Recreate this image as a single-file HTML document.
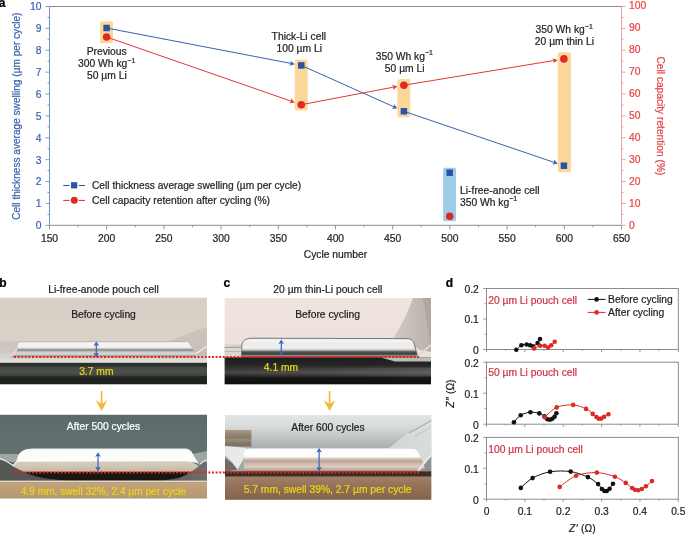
<!DOCTYPE html><html><head><meta charset="utf-8"><style>html,body{margin:0;padding:0;background:#fff;overflow:hidden}svg{display:block}text{font-family:"Liberation Sans",Arial,sans-serif}</style></head><body>
<svg width="685" height="534" viewBox="0 0 685 534">
<defs>
<linearGradient id="gb1r" x1="0" y1="0" x2="1" y2="1"><stop offset="0" stop-color="#d0c7be"/><stop offset="1" stop-color="#c6bdb4"/></linearGradient>
<linearGradient id="gb1f" x1="0" y1="0" x2="0" y2="1"><stop offset="0" stop-color="#cbc5bf"/><stop offset="0.6" stop-color="#cdc8c2"/><stop offset="1" stop-color="#dcd8d3"/></linearGradient>
<linearGradient id="gb1bg" x1="0" y1="0" x2="0" y2="1"><stop offset="0" stop-color="#d7cfc6"/><stop offset="0.5" stop-color="#dad2c9"/><stop offset="1" stop-color="#dad3cb"/></linearGradient>
<linearGradient id="gb1p" x1="0" y1="0" x2="0" y2="1"><stop offset="0" stop-color="#b5b0ab"/><stop offset="0.06" stop-color="#f6f5f3"/><stop offset="0.4" stop-color="#f0efed"/><stop offset="0.46" stop-color="#aaa8a6"/><stop offset="0.58" stop-color="#908e8c"/><stop offset="0.64" stop-color="#cfcdcb"/><stop offset="0.8" stop-color="#d8d6d4"/><stop offset="0.9" stop-color="#9a9896"/><stop offset="1" stop-color="#b0aeac"/></linearGradient>
<linearGradient id="gb1l" x1="0" y1="0" x2="0" y2="1"><stop offset="0" stop-color="#d6d2cc"/><stop offset="1" stop-color="#e9e5df"/></linearGradient>
<linearGradient id="gb1d" x1="0" y1="0" x2="0" y2="1"><stop offset="0" stop-color="#292e2a"/><stop offset="0.15" stop-color="#2c312d"/><stop offset="0.2" stop-color="#464a44"/><stop offset="0.45" stop-color="#4c4f49"/><stop offset="0.6" stop-color="#3d403b"/><stop offset="0.64" stop-color="#222724"/><stop offset="1" stop-color="#1d2220"/></linearGradient>
<linearGradient id="gb2bg" x1="0" y1="0" x2="0" y2="1"><stop offset="0" stop-color="#5c6b6a"/><stop offset="0.4" stop-color="#62716f"/><stop offset="1" stop-color="#5f6d6b"/></linearGradient>
<linearGradient id="gb2g" x1="0" y1="0" x2="1" y2="0"><stop offset="0" stop-color="#545855"/><stop offset="1" stop-color="#6c6f6b"/></linearGradient>
<linearGradient id="gb2s" x1="0" y1="0" x2="0" y2="1"><stop offset="0" stop-color="#d9cfbf"/><stop offset="0.5" stop-color="#d2c6b3"/><stop offset="0.9" stop-color="#c8baa5"/><stop offset="1" stop-color="#8f8272"/></linearGradient>
<linearGradient id="gb2t" x1="0" y1="0" x2="0" y2="1"><stop offset="0" stop-color="#e9ecec"/><stop offset="0.12" stop-color="#fbfbfa"/><stop offset="0.8" stop-color="#fdfdfc"/><stop offset="1" stop-color="#d9d6cf"/></linearGradient>
<linearGradient id="gb2b" x1="0" y1="0" x2="0" y2="1"><stop offset="0" stop-color="#c2a47d"/><stop offset="1" stop-color="#b4966f"/></linearGradient>
<linearGradient id="gc1bg" x1="0" y1="0" x2="0" y2="1"><stop offset="0" stop-color="#efe4dd"/><stop offset="0.6" stop-color="#ede2db"/><stop offset="1" stop-color="#e7dcd5"/></linearGradient>
<linearGradient id="gc1r" x1="0" y1="0" x2="1" y2="0"><stop offset="0" stop-color="#d2c9c2"/><stop offset="1" stop-color="#b9b1aa"/></linearGradient>
<linearGradient id="gc1p" x1="0" y1="0" x2="0" y2="1"><stop offset="0" stop-color="#d8d6d6"/><stop offset="0.08" stop-color="#f6f5f5"/><stop offset="0.3" stop-color="#ecebeb"/><stop offset="0.5" stop-color="#f2f1f1"/><stop offset="0.6" stop-color="#d0cfcf"/><stop offset="0.7" stop-color="#5a5958"/><stop offset="0.82" stop-color="#3c3b3a"/><stop offset="0.9" stop-color="#8a8886"/><stop offset="1" stop-color="#6a6866"/></linearGradient>
<linearGradient id="gc1d" x1="0" y1="0" x2="0" y2="1"><stop offset="0" stop-color="#1e1e1d"/><stop offset="0.25" stop-color="#242423"/><stop offset="0.42" stop-color="#363634"/><stop offset="0.56" stop-color="#474744"/><stop offset="0.68" stop-color="#2a2a29"/><stop offset="0.76" stop-color="#151515"/><stop offset="1" stop-color="#0f0f0f"/></linearGradient>
<linearGradient id="gc2bg" x1="0" y1="0" x2="0" y2="1"><stop offset="0" stop-color="#e0e4e2"/><stop offset="0.12" stop-color="#d9dddb"/><stop offset="0.27" stop-color="#c0c4c2"/><stop offset="0.39" stop-color="#a9adab"/><stop offset="1" stop-color="#9a9e9c"/></linearGradient>
<linearGradient id="gc1o" x1="0" y1="0" x2="1" y2="0"><stop offset="0" stop-color="#fff" stop-opacity="0"/><stop offset="0.5" stop-color="#fff" stop-opacity="0.05"/><stop offset="1" stop-color="#fff" stop-opacity="0.14"/></linearGradient>
<linearGradient id="gc2pl" x1="0" y1="1" x2="1" y2="0"><stop offset="0" stop-color="#cdd1cf"/><stop offset="1" stop-color="#dde1df"/></linearGradient>
<linearGradient id="gc2cyl" x1="0" y1="0" x2="0" y2="1"><stop offset="0" stop-color="#a89a8a"/><stop offset="0.25" stop-color="#978775"/><stop offset="0.45" stop-color="#8a7a68"/><stop offset="0.6" stop-color="#9c8c7a"/><stop offset="0.8" stop-color="#857565"/><stop offset="1" stop-color="#7c6e60"/></linearGradient>
<linearGradient id="gc2p" x1="0" y1="0" x2="0" y2="1"><stop offset="0" stop-color="#e8e8e8"/><stop offset="0.06" stop-color="#ffffff"/><stop offset="0.36" stop-color="#fbfbfb"/><stop offset="0.45" stop-color="#d6c7bd"/><stop offset="0.55" stop-color="#bba396"/><stop offset="0.68" stop-color="#d2beb2"/><stop offset="0.8" stop-color="#dccbc0"/><stop offset="0.92" stop-color="#c2a99a"/><stop offset="1" stop-color="#9c8171"/></linearGradient>
<linearGradient id="gc2b" x1="0" y1="0" x2="0" y2="1"><stop offset="0" stop-color="#a08068"/><stop offset="0.5" stop-color="#916f57"/><stop offset="1" stop-color="#83634c"/></linearGradient>
</defs>
<text x="-1.20" y="6.60" font-size="12" text-anchor="start" fill="#000" stroke="#000" stroke-width="0.22" font-weight="bold">a</text>
<rect x="100" y="21.2" width="13.00" height="22.00" rx="2" fill="#fbd899"/>
<rect x="294.8" y="59.5" width="12.90" height="50.90" rx="2" fill="#fbd899"/>
<rect x="397.4" y="79" width="12.90" height="38.20" rx="2" fill="#fbd899"/>
<rect x="557.8" y="52.3" width="13.20" height="120.00" rx="2" fill="#fbd899"/>
<rect x="443.1" y="167.7" width="12.90" height="53.60" rx="2" fill="#9fcde8"/>
<line x1="49.5" y1="6.5" x2="621.5" y2="6.5" stroke="#8c8c8c" stroke-width="1"/>
<line x1="49.5" y1="225.3" x2="621.5" y2="225.3" stroke="#8c8c8c" stroke-width="1"/>
<line x1="49.50" y1="225.3" x2="49.50" y2="229.50" stroke="#8c8c8c" stroke-width="0.9"/>
<text x="49.50" y="241.70" font-size="10.3" text-anchor="middle" fill="#231f20" stroke="#231f20" stroke-width="0.22" >150</text>
<line x1="78.10" y1="225.3" x2="78.10" y2="227.30" stroke="#8c8c8c" stroke-width="0.9"/>
<line x1="106.70" y1="225.3" x2="106.70" y2="229.50" stroke="#8c8c8c" stroke-width="0.9"/>
<text x="106.70" y="241.70" font-size="10.3" text-anchor="middle" fill="#231f20" stroke="#231f20" stroke-width="0.22" >200</text>
<line x1="135.30" y1="225.3" x2="135.30" y2="227.30" stroke="#8c8c8c" stroke-width="0.9"/>
<line x1="163.90" y1="225.3" x2="163.90" y2="229.50" stroke="#8c8c8c" stroke-width="0.9"/>
<text x="163.90" y="241.70" font-size="10.3" text-anchor="middle" fill="#231f20" stroke="#231f20" stroke-width="0.22" >250</text>
<line x1="192.50" y1="225.3" x2="192.50" y2="227.30" stroke="#8c8c8c" stroke-width="0.9"/>
<line x1="221.10" y1="225.3" x2="221.10" y2="229.50" stroke="#8c8c8c" stroke-width="0.9"/>
<text x="221.10" y="241.70" font-size="10.3" text-anchor="middle" fill="#231f20" stroke="#231f20" stroke-width="0.22" >300</text>
<line x1="249.70" y1="225.3" x2="249.70" y2="227.30" stroke="#8c8c8c" stroke-width="0.9"/>
<line x1="278.30" y1="225.3" x2="278.30" y2="229.50" stroke="#8c8c8c" stroke-width="0.9"/>
<text x="278.30" y="241.70" font-size="10.3" text-anchor="middle" fill="#231f20" stroke="#231f20" stroke-width="0.22" >350</text>
<line x1="306.90" y1="225.3" x2="306.90" y2="227.30" stroke="#8c8c8c" stroke-width="0.9"/>
<line x1="335.50" y1="225.3" x2="335.50" y2="229.50" stroke="#8c8c8c" stroke-width="0.9"/>
<text x="335.50" y="241.70" font-size="10.3" text-anchor="middle" fill="#231f20" stroke="#231f20" stroke-width="0.22" >400</text>
<line x1="364.10" y1="225.3" x2="364.10" y2="227.30" stroke="#8c8c8c" stroke-width="0.9"/>
<line x1="392.70" y1="225.3" x2="392.70" y2="229.50" stroke="#8c8c8c" stroke-width="0.9"/>
<text x="392.70" y="241.70" font-size="10.3" text-anchor="middle" fill="#231f20" stroke="#231f20" stroke-width="0.22" >450</text>
<line x1="421.30" y1="225.3" x2="421.30" y2="227.30" stroke="#8c8c8c" stroke-width="0.9"/>
<line x1="449.90" y1="225.3" x2="449.90" y2="229.50" stroke="#8c8c8c" stroke-width="0.9"/>
<text x="449.90" y="241.70" font-size="10.3" text-anchor="middle" fill="#231f20" stroke="#231f20" stroke-width="0.22" >500</text>
<line x1="478.50" y1="225.3" x2="478.50" y2="227.30" stroke="#8c8c8c" stroke-width="0.9"/>
<line x1="507.10" y1="225.3" x2="507.10" y2="229.50" stroke="#8c8c8c" stroke-width="0.9"/>
<text x="507.10" y="241.70" font-size="10.3" text-anchor="middle" fill="#231f20" stroke="#231f20" stroke-width="0.22" >550</text>
<line x1="535.70" y1="225.3" x2="535.70" y2="227.30" stroke="#8c8c8c" stroke-width="0.9"/>
<line x1="564.30" y1="225.3" x2="564.30" y2="229.50" stroke="#8c8c8c" stroke-width="0.9"/>
<text x="564.30" y="241.70" font-size="10.3" text-anchor="middle" fill="#231f20" stroke="#231f20" stroke-width="0.22" >600</text>
<line x1="592.90" y1="225.3" x2="592.90" y2="227.30" stroke="#8c8c8c" stroke-width="0.9"/>
<line x1="621.50" y1="225.3" x2="621.50" y2="229.50" stroke="#8c8c8c" stroke-width="0.9"/>
<text x="621.50" y="241.70" font-size="10.3" text-anchor="middle" fill="#231f20" stroke="#231f20" stroke-width="0.22" >650</text>
<text x="335.50" y="258.20" font-size="10.3" text-anchor="middle" fill="#231f20" stroke="#231f20" stroke-width="0.22" >Cycle number</text>
<line x1="49.5" y1="6.5" x2="49.5" y2="225.3" stroke="#7590cb" stroke-width="1"/>
<line x1="45.5" y1="225.30" x2="49.5" y2="225.30" stroke="#7590cb" stroke-width="0.9"/>
<text x="41.50" y="229.19" font-size="10.3" text-anchor="end" fill="#3d63b0" stroke="#3d63b0" stroke-width="0.22" >0</text>
<line x1="47.5" y1="214.36" x2="49.5" y2="214.36" stroke="#7590cb" stroke-width="0.9"/>
<line x1="45.5" y1="203.42" x2="49.5" y2="203.42" stroke="#7590cb" stroke-width="0.9"/>
<text x="41.50" y="207.32" font-size="10.3" text-anchor="end" fill="#3d63b0" stroke="#3d63b0" stroke-width="0.22" >1</text>
<line x1="47.5" y1="192.48" x2="49.5" y2="192.48" stroke="#7590cb" stroke-width="0.9"/>
<line x1="45.5" y1="181.54" x2="49.5" y2="181.54" stroke="#7590cb" stroke-width="0.9"/>
<text x="41.50" y="185.45" font-size="10.3" text-anchor="end" fill="#3d63b0" stroke="#3d63b0" stroke-width="0.22" >2</text>
<line x1="47.5" y1="170.60" x2="49.5" y2="170.60" stroke="#7590cb" stroke-width="0.9"/>
<line x1="45.5" y1="159.66" x2="49.5" y2="159.66" stroke="#7590cb" stroke-width="0.9"/>
<text x="41.50" y="163.58" font-size="10.3" text-anchor="end" fill="#3d63b0" stroke="#3d63b0" stroke-width="0.22" >3</text>
<line x1="47.5" y1="148.72" x2="49.5" y2="148.72" stroke="#7590cb" stroke-width="0.9"/>
<line x1="45.5" y1="137.78" x2="49.5" y2="137.78" stroke="#7590cb" stroke-width="0.9"/>
<text x="41.50" y="141.71" font-size="10.3" text-anchor="end" fill="#3d63b0" stroke="#3d63b0" stroke-width="0.22" >4</text>
<line x1="47.5" y1="126.84" x2="49.5" y2="126.84" stroke="#7590cb" stroke-width="0.9"/>
<line x1="45.5" y1="115.90" x2="49.5" y2="115.90" stroke="#7590cb" stroke-width="0.9"/>
<text x="41.50" y="119.84" font-size="10.3" text-anchor="end" fill="#3d63b0" stroke="#3d63b0" stroke-width="0.22" >5</text>
<line x1="47.5" y1="104.96" x2="49.5" y2="104.96" stroke="#7590cb" stroke-width="0.9"/>
<line x1="45.5" y1="94.02" x2="49.5" y2="94.02" stroke="#7590cb" stroke-width="0.9"/>
<text x="41.50" y="97.97" font-size="10.3" text-anchor="end" fill="#3d63b0" stroke="#3d63b0" stroke-width="0.22" >6</text>
<line x1="47.5" y1="83.08" x2="49.5" y2="83.08" stroke="#7590cb" stroke-width="0.9"/>
<line x1="45.5" y1="72.14" x2="49.5" y2="72.14" stroke="#7590cb" stroke-width="0.9"/>
<text x="41.50" y="76.10" font-size="10.3" text-anchor="end" fill="#3d63b0" stroke="#3d63b0" stroke-width="0.22" >7</text>
<line x1="47.5" y1="61.20" x2="49.5" y2="61.20" stroke="#7590cb" stroke-width="0.9"/>
<line x1="45.5" y1="50.26" x2="49.5" y2="50.26" stroke="#7590cb" stroke-width="0.9"/>
<text x="41.50" y="54.23" font-size="10.3" text-anchor="end" fill="#3d63b0" stroke="#3d63b0" stroke-width="0.22" >8</text>
<line x1="47.5" y1="39.32" x2="49.5" y2="39.32" stroke="#7590cb" stroke-width="0.9"/>
<line x1="45.5" y1="28.38" x2="49.5" y2="28.38" stroke="#7590cb" stroke-width="0.9"/>
<text x="41.50" y="32.36" font-size="10.3" text-anchor="end" fill="#3d63b0" stroke="#3d63b0" stroke-width="0.22" >9</text>
<line x1="47.5" y1="17.44" x2="49.5" y2="17.44" stroke="#7590cb" stroke-width="0.9"/>
<line x1="45.5" y1="6.50" x2="49.5" y2="6.50" stroke="#7590cb" stroke-width="0.9"/>
<text x="41.50" y="10.49" font-size="10.3" text-anchor="end" fill="#3d63b0" stroke="#3d63b0" stroke-width="0.22" >10</text>
<text transform="translate(20.2,116.2) rotate(-90)" font-size="10.1" text-anchor="middle" fill="#3d63b0" stroke="#3d63b0" stroke-width="0.22">Cell thickness average swelling (µm per cycle)</text>
<line x1="621.5" y1="6.5" x2="621.5" y2="225.3" stroke="#f09595" stroke-width="0.9"/>
<line x1="621.5" y1="225.30" x2="625.5" y2="225.30" stroke="#f09595" stroke-width="0.9"/>
<text x="629.00" y="228.64" font-size="10.3" text-anchor="start" fill="#e34646" stroke="#e34646" stroke-width="0.22" >0</text>
<line x1="621.5" y1="214.36" x2="623.5" y2="214.36" stroke="#f09595" stroke-width="0.9"/>
<line x1="621.5" y1="203.42" x2="625.5" y2="203.42" stroke="#f09595" stroke-width="0.9"/>
<text x="629.00" y="206.66" font-size="10.3" text-anchor="start" fill="#e34646" stroke="#e34646" stroke-width="0.22" >10</text>
<line x1="621.5" y1="192.48" x2="623.5" y2="192.48" stroke="#f09595" stroke-width="0.9"/>
<line x1="621.5" y1="181.54" x2="625.5" y2="181.54" stroke="#f09595" stroke-width="0.9"/>
<text x="629.00" y="184.68" font-size="10.3" text-anchor="start" fill="#e34646" stroke="#e34646" stroke-width="0.22" >20</text>
<line x1="621.5" y1="170.60" x2="623.5" y2="170.60" stroke="#f09595" stroke-width="0.9"/>
<line x1="621.5" y1="159.66" x2="625.5" y2="159.66" stroke="#f09595" stroke-width="0.9"/>
<text x="629.00" y="162.70" font-size="10.3" text-anchor="start" fill="#e34646" stroke="#e34646" stroke-width="0.22" >30</text>
<line x1="621.5" y1="148.72" x2="623.5" y2="148.72" stroke="#f09595" stroke-width="0.9"/>
<line x1="621.5" y1="137.78" x2="625.5" y2="137.78" stroke="#f09595" stroke-width="0.9"/>
<text x="629.00" y="140.72" font-size="10.3" text-anchor="start" fill="#e34646" stroke="#e34646" stroke-width="0.22" >40</text>
<line x1="621.5" y1="126.84" x2="623.5" y2="126.84" stroke="#f09595" stroke-width="0.9"/>
<line x1="621.5" y1="115.90" x2="625.5" y2="115.90" stroke="#f09595" stroke-width="0.9"/>
<text x="629.00" y="118.74" font-size="10.3" text-anchor="start" fill="#e34646" stroke="#e34646" stroke-width="0.22" >50</text>
<line x1="621.5" y1="104.96" x2="623.5" y2="104.96" stroke="#f09595" stroke-width="0.9"/>
<line x1="621.5" y1="94.02" x2="625.5" y2="94.02" stroke="#f09595" stroke-width="0.9"/>
<text x="629.00" y="96.76" font-size="10.3" text-anchor="start" fill="#e34646" stroke="#e34646" stroke-width="0.22" >60</text>
<line x1="621.5" y1="83.08" x2="623.5" y2="83.08" stroke="#f09595" stroke-width="0.9"/>
<line x1="621.5" y1="72.14" x2="625.5" y2="72.14" stroke="#f09595" stroke-width="0.9"/>
<text x="629.00" y="74.78" font-size="10.3" text-anchor="start" fill="#e34646" stroke="#e34646" stroke-width="0.22" >70</text>
<line x1="621.5" y1="61.20" x2="623.5" y2="61.20" stroke="#f09595" stroke-width="0.9"/>
<line x1="621.5" y1="50.26" x2="625.5" y2="50.26" stroke="#f09595" stroke-width="0.9"/>
<text x="629.00" y="52.80" font-size="10.3" text-anchor="start" fill="#e34646" stroke="#e34646" stroke-width="0.22" >80</text>
<line x1="621.5" y1="39.32" x2="623.5" y2="39.32" stroke="#f09595" stroke-width="0.9"/>
<line x1="621.5" y1="28.38" x2="625.5" y2="28.38" stroke="#f09595" stroke-width="0.9"/>
<text x="629.00" y="30.82" font-size="10.3" text-anchor="start" fill="#e34646" stroke="#e34646" stroke-width="0.22" >90</text>
<line x1="621.5" y1="17.44" x2="623.5" y2="17.44" stroke="#f09595" stroke-width="0.9"/>
<line x1="621.5" y1="6.50" x2="625.5" y2="6.50" stroke="#f09595" stroke-width="0.9"/>
<text x="629.00" y="8.84" font-size="10.3" text-anchor="start" fill="#e34646" stroke="#e34646" stroke-width="0.22" >100</text>
<text transform="translate(657.2,115.9) rotate(90)" font-size="10.2" text-anchor="middle" fill="#e34646" stroke="#e34646" stroke-width="0.22">Cell capacity retention (%)</text>
<line x1="106.60" y1="28.00" x2="291.07" y2="63.43" stroke="#3a60b2" stroke-width="1"/>
<path d="M294.80,64.15 L289.40,65.76 L291.07,63.43 L290.38,60.65 Z" fill="#3a60b2"/>
<line x1="106.60" y1="37.00" x2="291.21" y2="101.19" stroke="#e03838" stroke-width="1"/>
<path d="M294.80,102.44 L289.22,103.25 L291.21,101.19 L290.93,98.34 Z" fill="#e03838"/>
<line x1="301.30" y1="65.40" x2="393.93" y2="106.84" stroke="#3a60b2" stroke-width="1"/>
<path d="M397.40,108.39 L391.77,108.72 L393.93,106.84 L393.90,103.98 Z" fill="#3a60b2"/>
<line x1="301.30" y1="104.70" x2="393.67" y2="87.14" stroke="#e03838" stroke-width="1"/>
<path d="M397.40,86.44 L392.97,89.92 L393.67,87.14 L392.00,84.81 Z" fill="#e03838"/>
<line x1="403.90" y1="111.30" x2="554.20" y2="162.40" stroke="#3a60b2" stroke-width="1"/>
<path d="M557.80,163.63 L552.23,164.48 L554.20,162.40 L553.90,159.55 Z" fill="#3a60b2"/>
<line x1="403.90" y1="85.20" x2="554.05" y2="60.52" stroke="#e03838" stroke-width="1"/>
<path d="M557.80,59.90 L553.29,63.28 L554.05,60.52 L552.44,58.15 Z" fill="#e03838"/>
<rect x="103.35" y="24.75" width="6.5" height="6.5" fill="#2a52a6"/>
<rect x="298.05" y="62.15" width="6.5" height="6.5" fill="#2a52a6"/>
<rect x="400.65" y="108.05" width="6.5" height="6.5" fill="#2a52a6"/>
<rect x="560.65" y="162.45" width="6.5" height="6.5" fill="#2a52a6"/>
<circle cx="106.60" cy="37.00" r="3.8" fill="#dd2a26"/>
<circle cx="301.30" cy="104.70" r="3.8" fill="#dd2a26"/>
<circle cx="403.90" cy="85.20" r="3.8" fill="#dd2a26"/>
<circle cx="563.90" cy="58.90" r="3.8" fill="#dd2a26"/>
<rect x="446.45" y="169.45" width="6.5" height="6.5" fill="#2a52a6"/>
<circle cx="449.70" cy="216.20" r="3.8" fill="#dd2a26"/>
<text x="106.70" y="54.70" font-size="10.3" text-anchor="middle" fill="#231f20" stroke="#231f20" stroke-width="0.22" >Previous</text>
<text x="106.70" y="67.10" font-size="10.3" text-anchor="middle" fill="#231f20" stroke="#231f20" stroke-width="0.22" >300 Wh kg<tspan font-size="7" dy="-4.4">−1</tspan></text>
<text x="106.90" y="79.30" font-size="10.3" text-anchor="middle" fill="#231f20" stroke="#231f20" stroke-width="0.22" >50 µm Li</text>
<text x="298.80" y="39.90" font-size="10.3" text-anchor="middle" fill="#231f20" stroke="#231f20" stroke-width="0.22" >Thick-Li cell</text>
<text x="299.30" y="52.20" font-size="10.3" text-anchor="middle" fill="#231f20" stroke="#231f20" stroke-width="0.22" >100 µm Li</text>
<text x="404.30" y="59.80" font-size="10.3" text-anchor="middle" fill="#231f20" stroke="#231f20" stroke-width="0.22" >350 Wh kg<tspan font-size="7" dy="-4.4">−1</tspan></text>
<text x="404.70" y="71.90" font-size="10.3" text-anchor="middle" fill="#231f20" stroke="#231f20" stroke-width="0.22" >50 µm Li</text>
<text x="564.20" y="33.00" font-size="10.3" text-anchor="middle" fill="#231f20" stroke="#231f20" stroke-width="0.22" >350 Wh kg<tspan font-size="7" dy="-4.4">−1</tspan></text>
<text x="564.40" y="44.90" font-size="10.3" text-anchor="middle" fill="#231f20" stroke="#231f20" stroke-width="0.22" >20 µm thin Li</text>
<text x="460.10" y="193.90" font-size="10.3" text-anchor="start" fill="#231f20" stroke="#231f20" stroke-width="0.22" >Li-free-anode cell</text>
<text x="460.00" y="205.80" font-size="10.3" text-anchor="start" fill="#231f20" stroke="#231f20" stroke-width="0.22" >350 Wh kg<tspan font-size="7" dy="-4.4">−1</tspan></text>
<line x1="63.3" y1="185.5" x2="69.6" y2="185.5" stroke="#2a52a6" stroke-width="1"/>
<line x1="78.8" y1="185.5" x2="84.9" y2="185.5" stroke="#2a52a6" stroke-width="1"/>
<rect x="71.05" y="182.20" width="6.2" height="6.2" fill="#2a52a6"/>
<text x="92.00" y="188.60" font-size="10.2" text-anchor="start" fill="#231f20" stroke="#231f20" stroke-width="0.22" >Cell thickness average swelling (µm per cycle)</text>
<line x1="63.3" y1="200.4" x2="69.6" y2="200.4" stroke="#dd2a26" stroke-width="1"/>
<line x1="78.8" y1="200.4" x2="84.9" y2="200.4" stroke="#dd2a26" stroke-width="1"/>
<circle cx="74.30" cy="200.20" r="3.5" fill="#dd2a26"/>
<text x="92.00" y="204.10" font-size="10.3" text-anchor="start" fill="#231f20" stroke="#231f20" stroke-width="0.22" >Cell capacity retention after cycling (%)</text>
<text x="-0.80" y="286.60" font-size="12" text-anchor="start" fill="#000" stroke="#000" stroke-width="0.22" font-weight="bold">b</text>
<text x="223.40" y="287.20" font-size="12" text-anchor="start" fill="#000" stroke="#000" stroke-width="0.22" font-weight="bold">c</text>
<text x="445.70" y="287.10" font-size="12" text-anchor="start" fill="#000" stroke="#000" stroke-width="0.22" font-weight="bold">d</text>
<text x="103.50" y="292.80" font-size="10.3" text-anchor="middle" fill="#231f20" stroke="#231f20" stroke-width="0.22" >Li-free-anode pouch cell</text>
<text x="327.80" y="292.50" font-size="10.3" text-anchor="middle" fill="#231f20" stroke="#231f20" stroke-width="0.22" >20 µm thin-Li pouch cell</text>
<clipPath id="cb1"><rect x="0" y="297.5" width="207" height="87"/></clipPath>
<g clip-path="url(#cb1)">
<rect x="0" y="297.5" width="207" height="87" fill="url(#gb1bg)"/>
<path d="M168,341 C182,336 195,331 204,328 L207,328 L207,356 L190,356 Z" fill="url(#gb1r)"/>
<path d="M0,341.5 L22,341.5 L22,357.5 L0,357.5 Z" fill="url(#gb1f)"/>
<path d="M9,357.5 C12.5,355.5 16,353 17.3,349 L17.8,345.5 C18.3,342.6 20,341.5 24,341.5 L184,341.5 C187.5,341.5 188.5,342.5 190,345 L196,354 L194,357.5 Z" fill="url(#gb1p)"/>
<path d="M10,356.5 C13.5,354.5 16.2,352 17,348.5" stroke="#f7f6f4" stroke-width="1" fill="none" opacity="0.8"/>
<path d="M19,341.8 L185,341.8" stroke="#b9b5b1" stroke-width="0.7" fill="none"/>
<path d="M195.5,354 L207,346" stroke="#f1efec" stroke-width="1.2" fill="none"/>
<rect x="0" y="357.5" width="207" height="5.3" fill="url(#gb1l)"/>
<rect x="0" y="362.8" width="207" height="21.7" fill="url(#gb1d)"/>
</g>
<clipPath id="cb2"><rect x="0" y="414.5" width="207" height="84"/></clipPath>
<g clip-path="url(#cb2)">
<rect x="0" y="414.5" width="207" height="84" fill="url(#gb2bg)"/>
<rect x="0" y="458" width="207" height="23" fill="#545855"/>
<path d="M0,454 L22,454 L16,463 L0,460 Z" fill="#9da7a5"/>
<path d="M188,455 L207,451 L207,462 L196,463 Z" fill="#9da7a5"/>
<path d="M150,470 L207,462 L207,481 L150,481 Z" fill="url(#gb2g)"/>
<path d="M24,472 L190,472 C185,476 178,479.5 160,480.6 L70,480.6 C45,479.5 32,476 24,472 Z" fill="#1b1612"/>
<path d="M12,466 L18,460.5 L190,460.5 L199,466 L191,472 L24,472 Z" fill="url(#gb2s)"/>
<path d="M16,462 L18,456 C20,451 25,448.8 33,448.6 L184,448.6 C189,448.6 191,450.5 193,454 C195,458 197,461.5 200,464.5 C196,463 192,461.5 186,461.3 L16,461.8 Z" fill="url(#gb2t)"/>
<path d="M0,458.5 C5,460 9,463 13,465.5 L19,460" stroke="#f2f2ee" stroke-width="1.1" fill="none"/>
<path d="M199.5,464.5 C202,462 204,461 207,459.5" stroke="#eeeeea" stroke-width="1.1" fill="none"/>
<rect x="0" y="480.6" width="207" height="1.8" fill="#e6d8c3"/>
<rect x="0" y="482.4" width="207" height="16.1" fill="url(#gb2b)"/>
</g>
<clipPath id="cc1"><rect x="224.4" y="298" width="206.6" height="86.6"/></clipPath>
<g clip-path="url(#cc1)">
<rect x="224.4" y="298" width="206.6" height="86.6" fill="url(#gc1bg)"/>
<path d="M413,298 L431,298 L431,352 L420,350 C412,345 404,340 394,337 C402,325 408,312 413,298 Z" fill="url(#gc1r)"/>
<path d="M423,298 L431,298 L431,345 C428,330 426,315 423,298 Z" fill="#aea7a1"/>
<path d="M224.4,344 L242,344 L242,357.3 L224.4,357.3 Z" fill="#dcd6d2"/>
<path d="M224.4,347.5 L241,347" stroke="#8c8785" stroke-width="0.8"/>
<path d="M224.4,351.5 L241,351.5" stroke="#a9a4a1" stroke-width="0.6"/>
<path d="M241.6,357.5 L241.8,346 C242,341 245,338.4 252,338.2 L406,338.6 C412,338.6 414,341 415,347 L418,357.5 Z" fill="url(#gc1p)" stroke="#5e5b5a" stroke-width="0.8"/>
<path d="M417,357 C421,353 426,349 431,345" stroke="#dcd8d5" stroke-width="2" fill="none"/>
<rect x="224.4" y="357.3" width="206.6" height="27.3" fill="url(#gc1d)"/>
<path d="M380,357.3 L431,357.3 L431,361.5 L395,361.5 Z" fill="#bdbbb8"/>
<rect x="224.4" y="367.5" width="206.6" height="9" fill="url(#gc1o)"/>
</g>
<clipPath id="cc2"><rect x="224.9" y="414.9" width="206.6" height="84.9"/></clipPath>
<g clip-path="url(#cc2)">
<rect x="224.9" y="414.9" width="206.6" height="84.9" fill="url(#gc2bg)"/>
<path d="M388,448.5 C400,440 412,428 431.5,417 L431.5,455 L419,470 L412,448.5 Z" fill="url(#gc2pl)"/>
<path d="M409,433 L431.5,420.5" stroke="#a9afad" stroke-width="1.2" fill="none"/>
<path d="M414,437 L431.5,427" stroke="#bcc2c0" stroke-width="1" fill="none"/>
<path d="M419,471.5 L431.5,456 L431.5,472 Z" fill="#8e9290"/>
<rect x="224.9" y="430" width="26.5" height="16.5" fill="url(#gc2cyl)"/>
<path d="M224.9,458 L232,463 L237.5,469.5 L224.9,471.5 Z" fill="#75685f"/>
<path d="M224.9,446 L247,448 L243,460 L237.5,469.5 L232,462 L224.9,455 Z" fill="#e8eaea"/>
<path d="M244,471.5 L244,454 C244,450 246.5,448.3 252,448.3 L410,448.3 C416,448.3 418,451 420,456 L425,468 L418,471.5 Z" fill="url(#gc2p)"/>
<path d="M252,452 C280,451 320,452 405,452" stroke="#ffffff" stroke-width="2" fill="none" opacity="0.9"/>
<path d="M418,471 C422,466 426,460 431.5,455" stroke="#eef0f0" stroke-width="1.6" fill="none"/>
<rect x="224.9" y="471.4" width="206.6" height="5.3" fill="#3e2c22"/>
<rect x="224.9" y="476.7" width="206.6" height="23.2" fill="url(#gc2b)"/>
</g>
<text x="103.50" y="318.10" font-size="10.3" text-anchor="middle" fill="#1e1e1e" stroke="#1e1e1e" stroke-width="0.22" >Before cycling</text>
<text x="327.60" y="318.20" font-size="10.3" text-anchor="middle" fill="#1e1e1e" stroke="#1e1e1e" stroke-width="0.22" >Before cycling</text>
<text x="103.50" y="429.90" font-size="10.3" text-anchor="middle" fill="#ffffff" stroke="#ffffff" stroke-width="0.22" >After 500 cycles</text>
<text x="328.00" y="430.90" font-size="10.3" text-anchor="middle" fill="#1e1e1e" stroke="#1e1e1e" stroke-width="0.22" >After 600 cycles</text>
<text x="96.30" y="375.10" font-size="10.3" text-anchor="middle" fill="#ebd516" stroke="#ebd516" stroke-width="0.22" >3.7 mm</text>
<text x="281.00" y="371.00" font-size="10.3" text-anchor="middle" fill="#ebd516" stroke="#ebd516" stroke-width="0.22" >4.1 mm</text>
<text x="103.40" y="495.30" font-size="10.15" text-anchor="middle" fill="#ebd516" stroke="#ebd516" stroke-width="0.22" >4.9 mm, swell 32%, 2.4 µm per cycle</text>
<text x="327.60" y="493.00" font-size="10.3" text-anchor="middle" fill="#ebd516" stroke="#ebd516" stroke-width="0.22" >5.7 mm, swell 39%, 2.7 µm per cycle</text>
<line x1="96.3" y1="343.5" x2="96.3" y2="355.4" stroke="#3a62b8" stroke-width="1.2"/>
<path d="M96.3,341.5 L93.5,346.1 L96.3,345.1 L99.1,346.1 Z" fill="#3a62b8"/>
<path d="M96.3,357.4 L93.5,352.79999999999995 L96.3,353.79999999999995 L99.1,352.79999999999995 Z" fill="#3a62b8"/>
<line x1="281.3" y1="341.4" x2="281.3" y2="353.6" stroke="#3a62b8" stroke-width="1.2"/>
<path d="M281.3,339.4 L278.5,344.0 L281.3,343.0 L284.1,344.0 Z" fill="#3a62b8"/>
<path d="M281.3,355.6 L278.5,351.0 L281.3,352.0 L284.1,351.0 Z" fill="#3a62b8"/>
<line x1="98" y1="454.2" x2="98" y2="469.4" stroke="#3a62b8" stroke-width="1.2"/>
<path d="M98,452.2 L95.2,456.8 L98,455.8 L100.8,456.8 Z" fill="#3a62b8"/>
<path d="M98,471.4 L95.2,466.79999999999995 L98,467.79999999999995 L100.8,466.79999999999995 Z" fill="#3a62b8"/>
<line x1="319.1" y1="450" x2="319.1" y2="469.4" stroke="#3a62b8" stroke-width="1.2"/>
<path d="M319.1,448 L316.3,452.6 L319.1,451.6 L321.90000000000003,452.6 Z" fill="#3a62b8"/>
<path d="M319.1,471.4 L316.3,466.79999999999995 L319.1,467.79999999999995 L321.90000000000003,466.79999999999995 Z" fill="#3a62b8"/>
<line x1="14" y1="357.1" x2="419" y2="357.1" stroke="#e3231f" stroke-width="2" stroke-dasharray="2 1.6"/>
<line x1="14" y1="472.6" x2="419" y2="472.6" stroke="#e3231f" stroke-width="2" stroke-dasharray="2 1.6"/>
<line x1="101.6" y1="390.9" x2="101.6" y2="404" stroke="#f5b834" stroke-width="1.6"/>
<path d="M101.6,411.1 L95.8,400.2 L101.6,404 L107.39999999999999,400.2 Z" fill="#f5b834"/>
<line x1="329.6" y1="390.9" x2="329.6" y2="404" stroke="#f5b834" stroke-width="1.6"/>
<path d="M329.6,411.1 L323.8,400.2 L329.6,404 L335.40000000000003,400.2 Z" fill="#f5b834"/>
<rect x="486.5" y="288.5" width="191.80" height="61.00" fill="none" stroke="#8c8c8c" stroke-width="1"/>
<line x1="483.2" y1="349.50" x2="486.5" y2="349.50" stroke="#8c8c8c" stroke-width="0.9"/>
<text x="478.80" y="353.85" font-size="10.3" text-anchor="end" fill="#231f20" stroke="#231f20" stroke-width="0.22" >0</text>
<line x1="484.5" y1="334.25" x2="486.5" y2="334.25" stroke="#8c8c8c" stroke-width="0.9"/>
<line x1="483.2" y1="319.00" x2="486.5" y2="319.00" stroke="#8c8c8c" stroke-width="0.9"/>
<text x="478.80" y="323.35" font-size="10.3" text-anchor="end" fill="#231f20" stroke="#231f20" stroke-width="0.22" >0.1</text>
<line x1="484.5" y1="303.75" x2="486.5" y2="303.75" stroke="#8c8c8c" stroke-width="0.9"/>
<line x1="483.2" y1="288.50" x2="486.5" y2="288.50" stroke="#8c8c8c" stroke-width="0.9"/>
<text x="478.80" y="292.85" font-size="10.3" text-anchor="end" fill="#231f20" stroke="#231f20" stroke-width="0.22" >0.2</text>
<line x1="486.50" y1="349.5" x2="486.50" y2="352.1" stroke="#8c8c8c" stroke-width="0.9"/>
<line x1="505.68" y1="349.5" x2="505.68" y2="350.9" stroke="#8c8c8c" stroke-width="0.9"/>
<line x1="524.86" y1="349.5" x2="524.86" y2="352.1" stroke="#8c8c8c" stroke-width="0.9"/>
<line x1="544.04" y1="349.5" x2="544.04" y2="350.9" stroke="#8c8c8c" stroke-width="0.9"/>
<line x1="563.22" y1="349.5" x2="563.22" y2="352.1" stroke="#8c8c8c" stroke-width="0.9"/>
<line x1="582.40" y1="349.5" x2="582.40" y2="350.9" stroke="#8c8c8c" stroke-width="0.9"/>
<line x1="601.58" y1="349.5" x2="601.58" y2="352.1" stroke="#8c8c8c" stroke-width="0.9"/>
<line x1="620.76" y1="349.5" x2="620.76" y2="350.9" stroke="#8c8c8c" stroke-width="0.9"/>
<line x1="639.94" y1="349.5" x2="639.94" y2="352.1" stroke="#8c8c8c" stroke-width="0.9"/>
<line x1="659.12" y1="349.5" x2="659.12" y2="350.9" stroke="#8c8c8c" stroke-width="0.9"/>
<line x1="678.30" y1="349.5" x2="678.30" y2="352.1" stroke="#8c8c8c" stroke-width="0.9"/>
<text x="488.20" y="303.50" font-size="10.3" text-anchor="start" fill="#d33345" stroke="#d33345" stroke-width="0.22" >20 µm Li pouch cell</text>
<rect x="486.5" y="362.2" width="191.80" height="62.00" fill="none" stroke="#8c8c8c" stroke-width="1"/>
<line x1="483.2" y1="424.20" x2="486.5" y2="424.20" stroke="#8c8c8c" stroke-width="0.9"/>
<text x="478.80" y="428.55" font-size="10.3" text-anchor="end" fill="#231f20" stroke="#231f20" stroke-width="0.22" >0</text>
<line x1="484.5" y1="408.70" x2="486.5" y2="408.70" stroke="#8c8c8c" stroke-width="0.9"/>
<line x1="483.2" y1="393.20" x2="486.5" y2="393.20" stroke="#8c8c8c" stroke-width="0.9"/>
<text x="478.80" y="397.55" font-size="10.3" text-anchor="end" fill="#231f20" stroke="#231f20" stroke-width="0.22" >0.1</text>
<line x1="484.5" y1="377.70" x2="486.5" y2="377.70" stroke="#8c8c8c" stroke-width="0.9"/>
<line x1="483.2" y1="362.20" x2="486.5" y2="362.20" stroke="#8c8c8c" stroke-width="0.9"/>
<text x="478.80" y="366.55" font-size="10.3" text-anchor="end" fill="#231f20" stroke="#231f20" stroke-width="0.22" >0.2</text>
<line x1="486.50" y1="424.2" x2="486.50" y2="426.8" stroke="#8c8c8c" stroke-width="0.9"/>
<line x1="505.68" y1="424.2" x2="505.68" y2="425.59999999999997" stroke="#8c8c8c" stroke-width="0.9"/>
<line x1="524.86" y1="424.2" x2="524.86" y2="426.8" stroke="#8c8c8c" stroke-width="0.9"/>
<line x1="544.04" y1="424.2" x2="544.04" y2="425.59999999999997" stroke="#8c8c8c" stroke-width="0.9"/>
<line x1="563.22" y1="424.2" x2="563.22" y2="426.8" stroke="#8c8c8c" stroke-width="0.9"/>
<line x1="582.40" y1="424.2" x2="582.40" y2="425.59999999999997" stroke="#8c8c8c" stroke-width="0.9"/>
<line x1="601.58" y1="424.2" x2="601.58" y2="426.8" stroke="#8c8c8c" stroke-width="0.9"/>
<line x1="620.76" y1="424.2" x2="620.76" y2="425.59999999999997" stroke="#8c8c8c" stroke-width="0.9"/>
<line x1="639.94" y1="424.2" x2="639.94" y2="426.8" stroke="#8c8c8c" stroke-width="0.9"/>
<line x1="659.12" y1="424.2" x2="659.12" y2="425.59999999999997" stroke="#8c8c8c" stroke-width="0.9"/>
<line x1="678.30" y1="424.2" x2="678.30" y2="426.8" stroke="#8c8c8c" stroke-width="0.9"/>
<text x="488.20" y="376.20" font-size="10.3" text-anchor="start" fill="#d33345" stroke="#d33345" stroke-width="0.22" >50 µm Li pouch cell</text>
<rect x="486.5" y="437.4" width="191.80" height="61.80" fill="none" stroke="#8c8c8c" stroke-width="1"/>
<line x1="483.2" y1="499.20" x2="486.5" y2="499.20" stroke="#8c8c8c" stroke-width="0.9"/>
<text x="478.80" y="503.55" font-size="10.3" text-anchor="end" fill="#231f20" stroke="#231f20" stroke-width="0.22" >0</text>
<line x1="484.5" y1="483.75" x2="486.5" y2="483.75" stroke="#8c8c8c" stroke-width="0.9"/>
<line x1="483.2" y1="468.30" x2="486.5" y2="468.30" stroke="#8c8c8c" stroke-width="0.9"/>
<text x="478.80" y="472.65" font-size="10.3" text-anchor="end" fill="#231f20" stroke="#231f20" stroke-width="0.22" >0.1</text>
<line x1="484.5" y1="452.85" x2="486.5" y2="452.85" stroke="#8c8c8c" stroke-width="0.9"/>
<line x1="483.2" y1="437.40" x2="486.5" y2="437.40" stroke="#8c8c8c" stroke-width="0.9"/>
<text x="478.80" y="441.75" font-size="10.3" text-anchor="end" fill="#231f20" stroke="#231f20" stroke-width="0.22" >0.2</text>
<line x1="486.50" y1="499.2" x2="486.50" y2="501.8" stroke="#8c8c8c" stroke-width="0.9"/>
<line x1="505.68" y1="499.2" x2="505.68" y2="500.59999999999997" stroke="#8c8c8c" stroke-width="0.9"/>
<line x1="524.86" y1="499.2" x2="524.86" y2="501.8" stroke="#8c8c8c" stroke-width="0.9"/>
<line x1="544.04" y1="499.2" x2="544.04" y2="500.59999999999997" stroke="#8c8c8c" stroke-width="0.9"/>
<line x1="563.22" y1="499.2" x2="563.22" y2="501.8" stroke="#8c8c8c" stroke-width="0.9"/>
<line x1="582.40" y1="499.2" x2="582.40" y2="500.59999999999997" stroke="#8c8c8c" stroke-width="0.9"/>
<line x1="601.58" y1="499.2" x2="601.58" y2="501.8" stroke="#8c8c8c" stroke-width="0.9"/>
<line x1="620.76" y1="499.2" x2="620.76" y2="500.59999999999997" stroke="#8c8c8c" stroke-width="0.9"/>
<line x1="639.94" y1="499.2" x2="639.94" y2="501.8" stroke="#8c8c8c" stroke-width="0.9"/>
<line x1="659.12" y1="499.2" x2="659.12" y2="500.59999999999997" stroke="#8c8c8c" stroke-width="0.9"/>
<line x1="678.30" y1="499.2" x2="678.30" y2="501.8" stroke="#8c8c8c" stroke-width="0.9"/>
<text x="488.20" y="452.60" font-size="10.3" text-anchor="start" fill="#d33345" stroke="#d33345" stroke-width="0.22" >100 µm Li pouch cell</text>
<text x="486.50" y="515.10" font-size="10.3" text-anchor="middle" fill="#231f20" stroke="#231f20" stroke-width="0.22" >0</text>
<text x="524.86" y="515.10" font-size="10.3" text-anchor="middle" fill="#231f20" stroke="#231f20" stroke-width="0.22" >0.1</text>
<text x="563.22" y="515.10" font-size="10.3" text-anchor="middle" fill="#231f20" stroke="#231f20" stroke-width="0.22" >0.2</text>
<text x="601.58" y="515.10" font-size="10.3" text-anchor="middle" fill="#231f20" stroke="#231f20" stroke-width="0.22" >0.3</text>
<text x="639.94" y="515.10" font-size="10.3" text-anchor="middle" fill="#231f20" stroke="#231f20" stroke-width="0.22" >0.4</text>
<text x="678.30" y="515.10" font-size="10.3" text-anchor="middle" fill="#231f20" stroke="#231f20" stroke-width="0.22" >0.5</text>
<text x="582.3" y="532.1" font-size="10.3" text-anchor="middle" fill="#231f20" stroke="#231f20" stroke-width="0.22"><tspan font-style="italic">Z</tspan><tspan dx="0.9">′</tspan> (Ω)</text>
<text transform="translate(453.5,393.6) rotate(-90)" font-size="10.3" text-anchor="middle" fill="#231f20" stroke="#231f20" stroke-width="0.22"><tspan font-style="italic">Z</tspan><tspan dx="0.9">″</tspan> (Ω)</text>
<line x1="587.7" y1="299.4" x2="605.6" y2="299.4" stroke="#111" stroke-width="1"/>
<circle cx="596.6" cy="299.4" r="2.3" fill="#111"/>
<text x="608.10" y="303.00" font-size="10.3" text-anchor="start" fill="#231f20" stroke="#231f20" stroke-width="0.22" >Before cycling</text>
<line x1="587.7" y1="312.4" x2="605.6" y2="312.4" stroke="#dd2a26" stroke-width="1"/>
<circle cx="596.6" cy="312.4" r="2.3" fill="#dd2a26"/>
<text x="608.10" y="316.00" font-size="10.3" text-anchor="start" fill="#231f20" stroke="#231f20" stroke-width="0.22" >After cycling</text>
<path d="M516.30,349.70 C517.15,348.97 519.68,346.17 521.40,345.30 C523.12,344.43 525.15,344.50 526.60,344.50 C528.05,344.50 529.03,345.02 530.10,345.30 C531.17,345.58 531.75,346.57 533.00,346.20 C534.25,345.83 536.43,344.30 537.60,343.10 C538.77,341.90 539.60,339.68 540.00,339.00" fill="none" stroke="#111111" stroke-width="1"/>
<circle cx="516.30" cy="349.70" r="2.3" fill="#111111"/>
<circle cx="521.40" cy="345.30" r="2.3" fill="#111111"/>
<circle cx="526.60" cy="344.50" r="2.3" fill="#111111"/>
<circle cx="530.10" cy="345.30" r="2.3" fill="#111111"/>
<circle cx="533.00" cy="346.20" r="2.3" fill="#111111"/>
<circle cx="537.60" cy="343.10" r="2.3" fill="#111111"/>
<circle cx="540.00" cy="339.00" r="2.3" fill="#111111"/>
<path d="M534.10,348.40 C535.12,347.97 538.45,346.23 540.20,345.80 C541.95,345.37 543.28,345.52 544.60,345.80 C545.92,346.08 547.00,347.58 548.10,347.50 C549.20,347.42 550.10,346.25 551.20,345.30 C552.30,344.35 554.12,342.38 554.70,341.80" fill="none" stroke="#dd2a26" stroke-width="1"/>
<circle cx="534.10" cy="348.40" r="2.3" fill="#dd2a26"/>
<circle cx="540.20" cy="345.80" r="2.3" fill="#dd2a26"/>
<circle cx="544.60" cy="345.80" r="2.3" fill="#dd2a26"/>
<circle cx="548.10" cy="347.50" r="2.3" fill="#dd2a26"/>
<circle cx="551.20" cy="345.30" r="2.3" fill="#dd2a26"/>
<circle cx="554.70" cy="341.80" r="2.3" fill="#dd2a26"/>
<path d="M513.90,422.20 C515.03,421.03 517.95,416.87 520.70,415.20 C523.45,413.53 527.30,412.50 530.40,412.20 C533.50,411.90 536.93,412.72 539.30,413.40 C541.67,414.08 543.25,415.33 544.60,416.30 C545.95,417.27 546.52,418.62 547.40,419.20 C548.28,419.78 549.08,419.87 549.90,419.80 C550.72,419.73 551.52,419.32 552.30,418.80 C553.08,418.28 553.92,417.63 554.60,416.70 C555.28,415.77 556.10,413.78 556.40,413.20" fill="none" stroke="#111111" stroke-width="1"/>
<circle cx="513.90" cy="422.20" r="2.3" fill="#111111"/>
<circle cx="520.70" cy="415.20" r="2.3" fill="#111111"/>
<circle cx="530.40" cy="412.20" r="2.3" fill="#111111"/>
<circle cx="539.30" cy="413.40" r="2.3" fill="#111111"/>
<circle cx="544.60" cy="416.30" r="2.3" fill="#111111"/>
<circle cx="547.40" cy="419.20" r="2.3" fill="#111111"/>
<circle cx="549.90" cy="419.80" r="2.3" fill="#111111"/>
<circle cx="552.30" cy="418.80" r="2.3" fill="#111111"/>
<circle cx="554.60" cy="416.70" r="2.3" fill="#111111"/>
<circle cx="556.40" cy="413.20" r="2.3" fill="#111111"/>
<path d="M544.60,417.30 C546.62,415.65 551.93,409.47 556.70,407.40 C561.47,405.33 568.30,404.65 573.20,404.90 C578.10,405.15 582.85,407.40 586.10,408.90 C589.35,410.40 590.98,412.53 592.70,413.90 C594.42,415.27 595.37,416.28 596.40,417.10 C597.43,417.92 598.08,418.55 598.90,418.80 C599.72,419.05 600.42,418.95 601.30,418.60 C602.18,418.25 603.00,417.43 604.20,416.70 C605.40,415.97 607.78,414.62 608.50,414.20" fill="none" stroke="#dd2a26" stroke-width="1"/>
<circle cx="544.60" cy="417.30" r="2.3" fill="#dd2a26"/>
<circle cx="556.70" cy="407.40" r="2.3" fill="#dd2a26"/>
<circle cx="573.20" cy="404.90" r="2.3" fill="#dd2a26"/>
<circle cx="586.10" cy="408.90" r="2.3" fill="#dd2a26"/>
<circle cx="592.70" cy="413.90" r="2.3" fill="#dd2a26"/>
<circle cx="596.40" cy="417.10" r="2.3" fill="#dd2a26"/>
<circle cx="598.90" cy="418.80" r="2.3" fill="#dd2a26"/>
<circle cx="601.30" cy="418.60" r="2.3" fill="#dd2a26"/>
<circle cx="604.20" cy="416.70" r="2.3" fill="#dd2a26"/>
<circle cx="608.50" cy="414.20" r="2.3" fill="#dd2a26"/>
<path d="M520.80,487.90 C522.77,486.27 527.72,480.78 532.60,478.10 C537.48,475.42 543.75,472.88 550.10,471.80 C556.45,470.72 564.40,470.72 570.70,471.60 C577.00,472.48 583.33,475.02 587.90,477.10 C592.47,479.18 595.77,482.12 598.10,484.10 C600.43,486.08 600.83,487.85 601.90,489.00 C602.97,490.15 603.68,490.67 604.50,491.00 C605.32,491.33 605.95,491.38 606.80,491.00 C607.65,490.62 608.57,489.90 609.60,488.70 C610.63,487.50 612.43,484.62 613.00,483.80" fill="none" stroke="#111111" stroke-width="1"/>
<circle cx="520.80" cy="487.90" r="2.3" fill="#111111"/>
<circle cx="532.60" cy="478.10" r="2.3" fill="#111111"/>
<circle cx="550.10" cy="471.80" r="2.3" fill="#111111"/>
<circle cx="570.70" cy="471.60" r="2.3" fill="#111111"/>
<circle cx="587.90" cy="477.10" r="2.3" fill="#111111"/>
<circle cx="598.10" cy="484.10" r="2.3" fill="#111111"/>
<circle cx="601.90" cy="489.00" r="2.3" fill="#111111"/>
<circle cx="604.50" cy="491.00" r="2.3" fill="#111111"/>
<circle cx="606.80" cy="491.00" r="2.3" fill="#111111"/>
<circle cx="609.60" cy="488.70" r="2.3" fill="#111111"/>
<circle cx="613.00" cy="483.80" r="2.3" fill="#111111"/>
<path d="M559.70,486.90 C562.43,485.05 569.92,478.18 576.10,475.80 C582.28,473.42 590.33,472.43 596.80,472.60 C603.27,472.77 610.08,475.08 614.90,476.80 C619.72,478.52 622.83,481.03 625.70,482.90 C628.57,484.77 630.57,486.85 632.10,488.00 C633.63,489.15 633.88,489.42 634.90,489.80 C635.92,490.18 637.05,490.43 638.20,490.30 C639.35,490.17 640.52,489.67 641.80,489.00 C643.08,488.33 644.20,487.62 645.90,486.30 C647.60,484.98 650.98,481.97 652.00,481.10" fill="none" stroke="#dd2a26" stroke-width="1"/>
<circle cx="559.70" cy="486.90" r="2.3" fill="#dd2a26"/>
<circle cx="576.10" cy="475.80" r="2.3" fill="#dd2a26"/>
<circle cx="596.80" cy="472.60" r="2.3" fill="#dd2a26"/>
<circle cx="614.90" cy="476.80" r="2.3" fill="#dd2a26"/>
<circle cx="625.70" cy="482.90" r="2.3" fill="#dd2a26"/>
<circle cx="632.10" cy="488.00" r="2.3" fill="#dd2a26"/>
<circle cx="634.90" cy="489.80" r="2.3" fill="#dd2a26"/>
<circle cx="638.20" cy="490.30" r="2.3" fill="#dd2a26"/>
<circle cx="641.80" cy="489.00" r="2.3" fill="#dd2a26"/>
<circle cx="645.90" cy="486.30" r="2.3" fill="#dd2a26"/>
<circle cx="652.00" cy="481.10" r="2.3" fill="#dd2a26"/>
</svg></body></html>
